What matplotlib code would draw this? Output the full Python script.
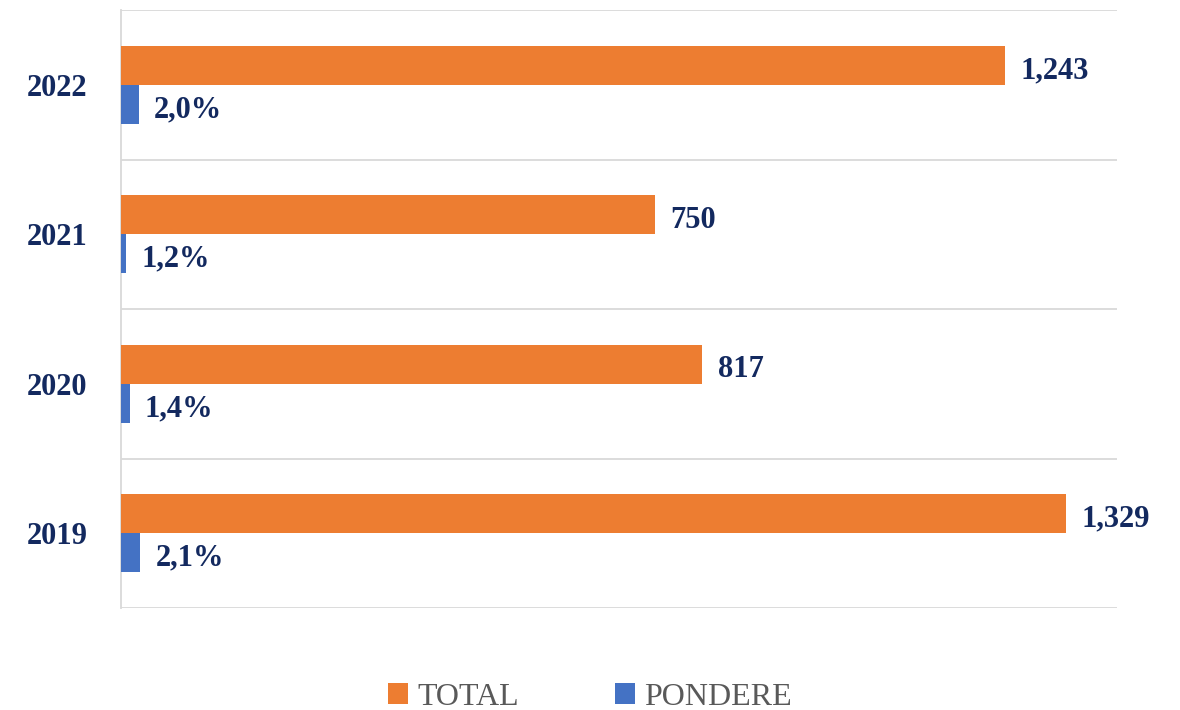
import matplotlib
matplotlib.use("Agg")
import matplotlib.pyplot as plt
from matplotlib.patches import Patch
import numpy as np

years = ["2019", "2020", "2021", "2022"]
total = [1329, 817, 750, 1243]
pondere = [2.1, 1.4, 1.2, 2.0]  # percent

ORANGE = "#ED7D31"
BLUE = "#4472C4"
NAVY = "#13295F"
GRID = "#D9D9D9"
FONT = "Liberation Serif"

fig = plt.figure(figsize=(11.8, 7.1), dpi=100)
ax = fig.add_axes([121 / 1180, 1 - 608 / 710, (1117 - 121) / 1180, (608 - 10) / 710])
ax2 = ax.twiny()

y = np.arange(len(years))
h = 0.26
ax.barh(y + h / 2, total, height=h, color=ORANGE, zorder=3)
ax2.barh(y - h / 2, pondere, height=h, color=BLUE, zorder=3)

ax.set_xlim(0, 1400)
ax2.set_xlim(0.84, 66.4)
ax.set_ylim(-0.5, len(years) - 0.5)
ax2.set_ylim(-0.5, len(years) - 0.5)

for yi, v in zip(y, total):
    ax.annotate(f"{v:,}", (v, yi + h / 2), xytext=(11, -4), textcoords="offset points",
                va="center", ha="left", fontsize=22, fontweight="bold", color=NAVY, family=FONT)
for yi, v in zip(y, pondere):
    ax2.annotate(f"{v:.1f}%".replace(".", ","), (v, yi - h / 2), xytext=(11, -4),
                 textcoords="offset points", va="center", ha="left", fontsize=22,
                 fontweight="bold", color=NAVY, family=FONT)

ax.set_yticks(y)
ax.set_yticklabels(years, fontsize=22, fontweight="bold", color=NAVY, family=FONT)
ax.tick_params(axis="y", length=0, pad=24)
ax.set_xticks([])
ax2.set_xticks([])
ax.set_yticks(np.arange(-0.5, len(years), 1), minor=True)
ax.tick_params(axis="y", which="minor", length=0)
ax.grid(axis="y", which="minor", color=GRID, linewidth=1.3, zorder=0)
ax.grid(axis="y", which="major", visible=False)

for a in (ax, ax2):
    for s in ["top", "right", "bottom"]:
        a.spines[s].set_visible(False)
    a.set_facecolor("none")
ax2.spines["left"].set_visible(False)
ax.spines["left"].set_color(GRID)
ax.spines["left"].set_linewidth(1.3)

handles = [Patch(facecolor=ORANGE, label="TOTAL"), Patch(facecolor=BLUE, label="PONDERE")]
leg = fig.legend(handles=handles, loc="lower center", bbox_to_anchor=(0.5, -0.043), ncol=2,
                 frameon=False, prop={"family": FONT, "size": 23}, handlelength=0.63,
                 handleheight=0.63, handletextpad=0.3, columnspacing=3.0, labelcolor="#595959")

fig.savefig("out.png", dpi=100)
